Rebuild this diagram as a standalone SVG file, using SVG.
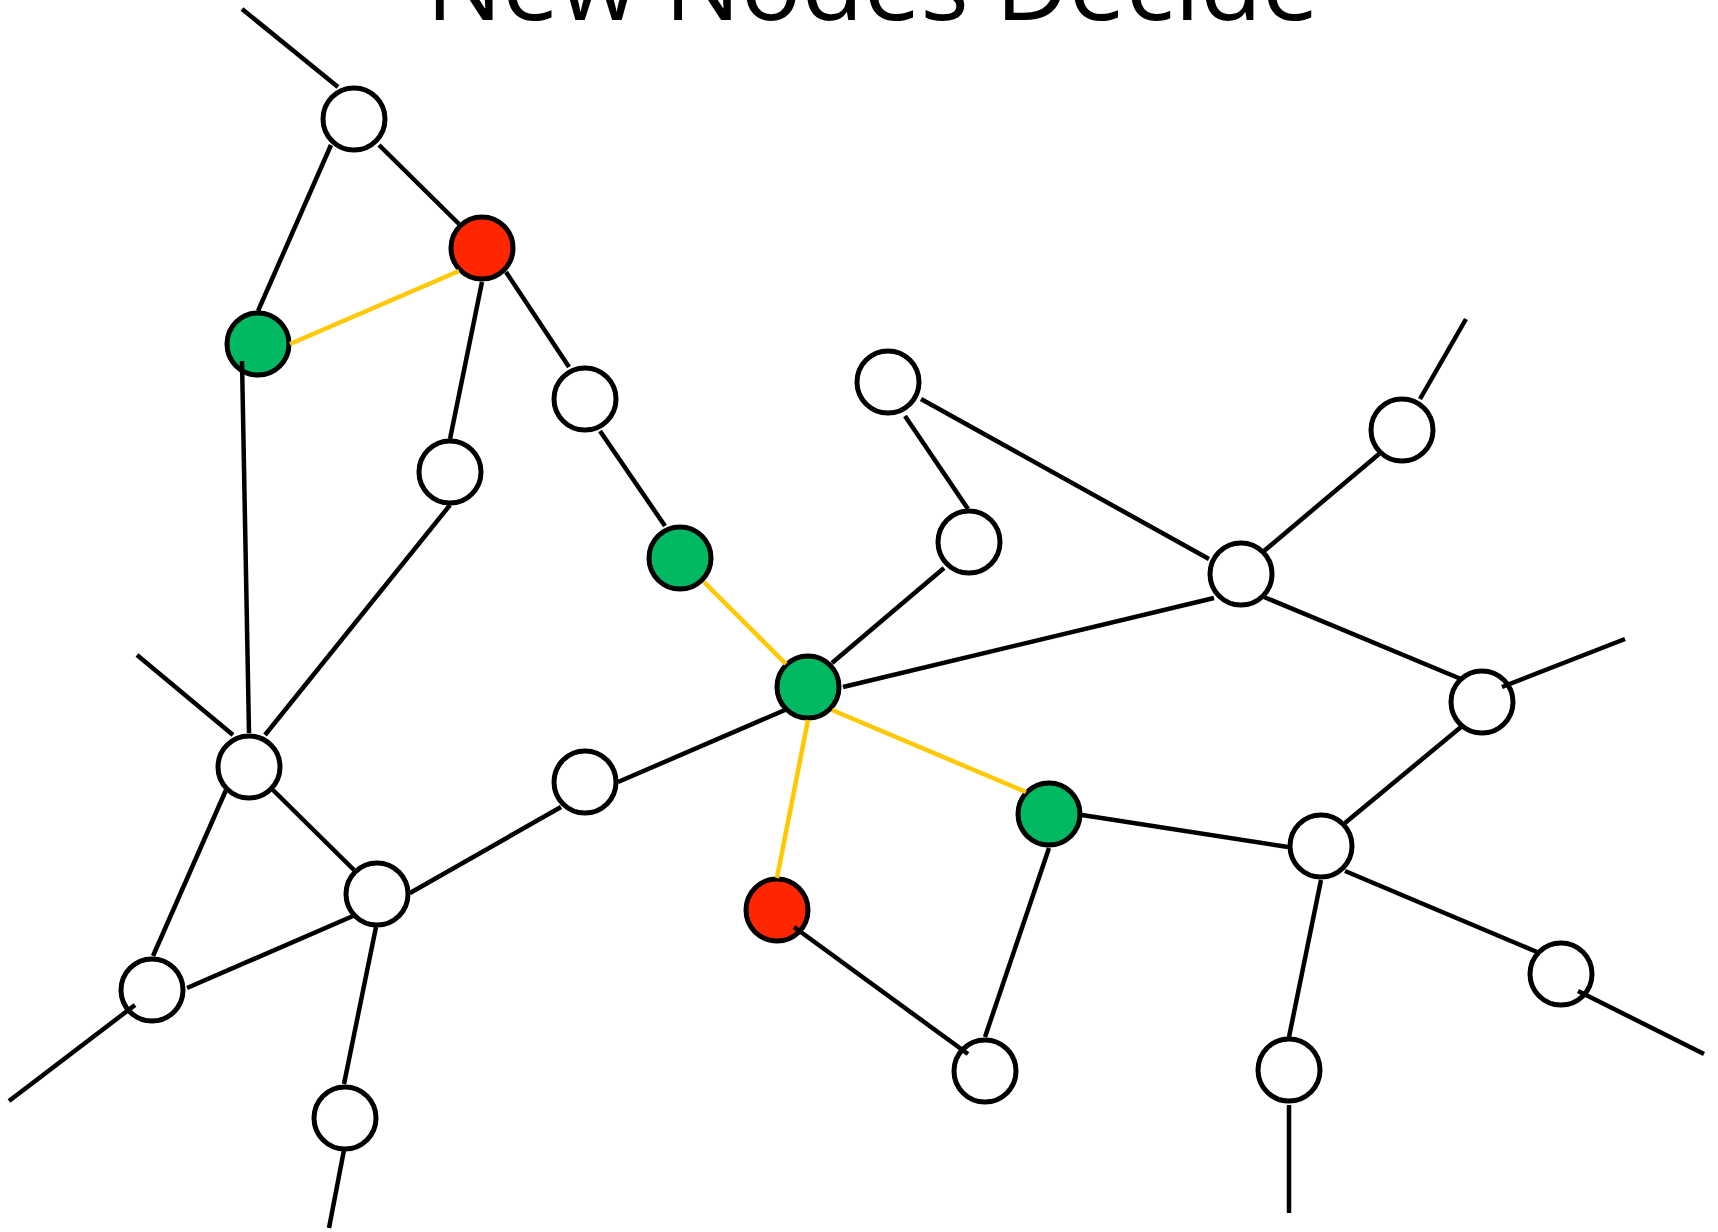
<svg xmlns="http://www.w3.org/2000/svg" width="1718" height="1232" viewBox="0 0 1718 1232">
<style>
.n{stroke:#000;stroke-width:5}
.w{fill:#fff}
.g{fill:#00B962}
.r{fill:#FF2600}
.e{stroke:#000;stroke-width:4.5;fill:none}
.y{stroke:#FFC800;stroke-width:4.5;fill:none}
.t{font-family:"Open Sans","Liberation Sans",sans-serif;font-size:100px;fill:#000}
</style>
<rect width="1718" height="1232" fill="#fff"/>
<text class="t" x="426" y="20" textLength="893" lengthAdjust="spacingAndGlyphs">New Nodes Decide</text>
<g id="nodes">
<g id="n1"><circle class="n w" cx="354" cy="119" r="31"/></g>
<g id="n2"><circle class="n r" cx="482" cy="248" r="31"/></g>
<g id="n3"><circle class="n g" cx="258" cy="344" r="31"/></g>
<g id="n4"><circle class="n w" cx="585" cy="399" r="31"/></g>
<g id="n5"><circle class="n w" cx="450" cy="472" r="31"/></g>
<g id="n6"><circle class="n g" cx="680" cy="558" r="31"/></g>
<g id="n7"><circle class="n w" cx="888" cy="382" r="31"/></g>
<g id="n8"><circle class="n w" cx="969" cy="542" r="31"/></g>
<g id="n9"><circle class="n g" cx="808" cy="687" r="31"/></g>
<g id="n10"><circle class="n w" cx="1241" cy="574" r="31"/></g>
<g id="n11"><circle class="n w" cx="1402" cy="430" r="31"/></g>
<g id="n12"><circle class="n w" cx="1482" cy="702" r="31"/></g>
<g id="n13"><circle class="n w" cx="249" cy="767" r="31"/></g>
<g id="n14"><circle class="n w" cx="585" cy="782" r="31"/></g>
<g id="n15"><circle class="n w" cx="377" cy="894" r="31"/></g>
<g id="n16"><circle class="n w" cx="152" cy="990" r="31"/></g>
<g id="n17"><circle class="n w" cx="345" cy="1118" r="31"/></g>
<g id="n18"><circle class="n r" cx="777" cy="910" r="31"/></g>
<g id="n19"><circle class="n g" cx="1049" cy="814" r="31"/></g>
<g id="n20"><circle class="n w" cx="1321" cy="846" r="31"/></g>
<g id="n21"><circle class="n w" cx="1561" cy="974" r="31"/></g>
<g id="n22"><circle class="n w" cx="985" cy="1071" r="31"/></g>
<g id="n23"><circle class="n w" cx="1289" cy="1070" r="31"/></g>
</g>
<g id="connectors">
<line class="e" x1="242" y1="9" x2="338" y2="87"/>
<line class="e" x1="379" y1="145" x2="459" y2="224"/>
<line class="e" x1="331" y1="145" x2="258" y2="311"/>
<line class="y" x1="290" y1="344" x2="459" y2="271"/>
<line class="e" x1="482" y1="282" x2="450" y2="439"/>
<line class="e" x1="506" y1="272" x2="569" y2="367"/>
<line class="e" x1="600" y1="431" x2="665" y2="526"/>
<line class="y" x1="704" y1="582" x2="786" y2="664"/>
<line class="e" x1="242" y1="361" x2="249" y2="733"/>
<line class="e" x1="450" y1="505" x2="265" y2="735"/>
<line class="e" x1="137" y1="655" x2="233" y2="735"/>
<line class="e" x1="273" y1="790" x2="354" y2="870"/>
<line class="e" x1="226" y1="790" x2="153" y2="956"/>
<line class="e" x1="187" y1="988" x2="353" y2="916"/>
<line class="e" x1="9" y1="1101" x2="135" y2="1005"/>
<line class="e" x1="410" y1="893" x2="561" y2="807"/>
<line class="e" x1="376" y1="927" x2="344" y2="1084"/>
<line class="e" x1="344" y1="1150" x2="329" y2="1228"/>
<line class="e" x1="618" y1="782" x2="785" y2="710"/>
<line class="e" x1="905" y1="416" x2="968" y2="509"/>
<line class="e" x1="944" y1="568" x2="832" y2="663"/>
<line class="e" x1="921" y1="399" x2="1209" y2="559"/>
<line class="e" x1="843" y1="687" x2="1214" y2="598"/>
<line class="e" x1="1264" y1="551" x2="1379" y2="454"/>
<line class="e" x1="1420" y1="399" x2="1466" y2="319"/>
<line class="e" x1="1264" y1="597" x2="1461" y2="679"/>
<line class="e" x1="1502" y1="687" x2="1625" y2="639"/>
<line class="e" x1="1461" y1="727" x2="1345" y2="823"/>
<line class="y" x1="832" y1="710" x2="1026" y2="792"/>
<line class="y" x1="808" y1="720" x2="777" y2="878"/>
<line class="e" x1="1082" y1="815" x2="1288" y2="847"/>
<line class="e" x1="1049" y1="848" x2="985" y2="1037"/>
<line class="e" x1="794" y1="927" x2="968" y2="1054"/>
<line class="e" x1="1345" y1="871" x2="1537" y2="952"/>
<line class="e" x1="1321" y1="880" x2="1289" y2="1037"/>
<line class="e" x1="1289" y1="1105" x2="1289" y2="1213"/>
<line class="e" x1="1578" y1="991" x2="1704" y2="1054"/>
</g>
</svg>
